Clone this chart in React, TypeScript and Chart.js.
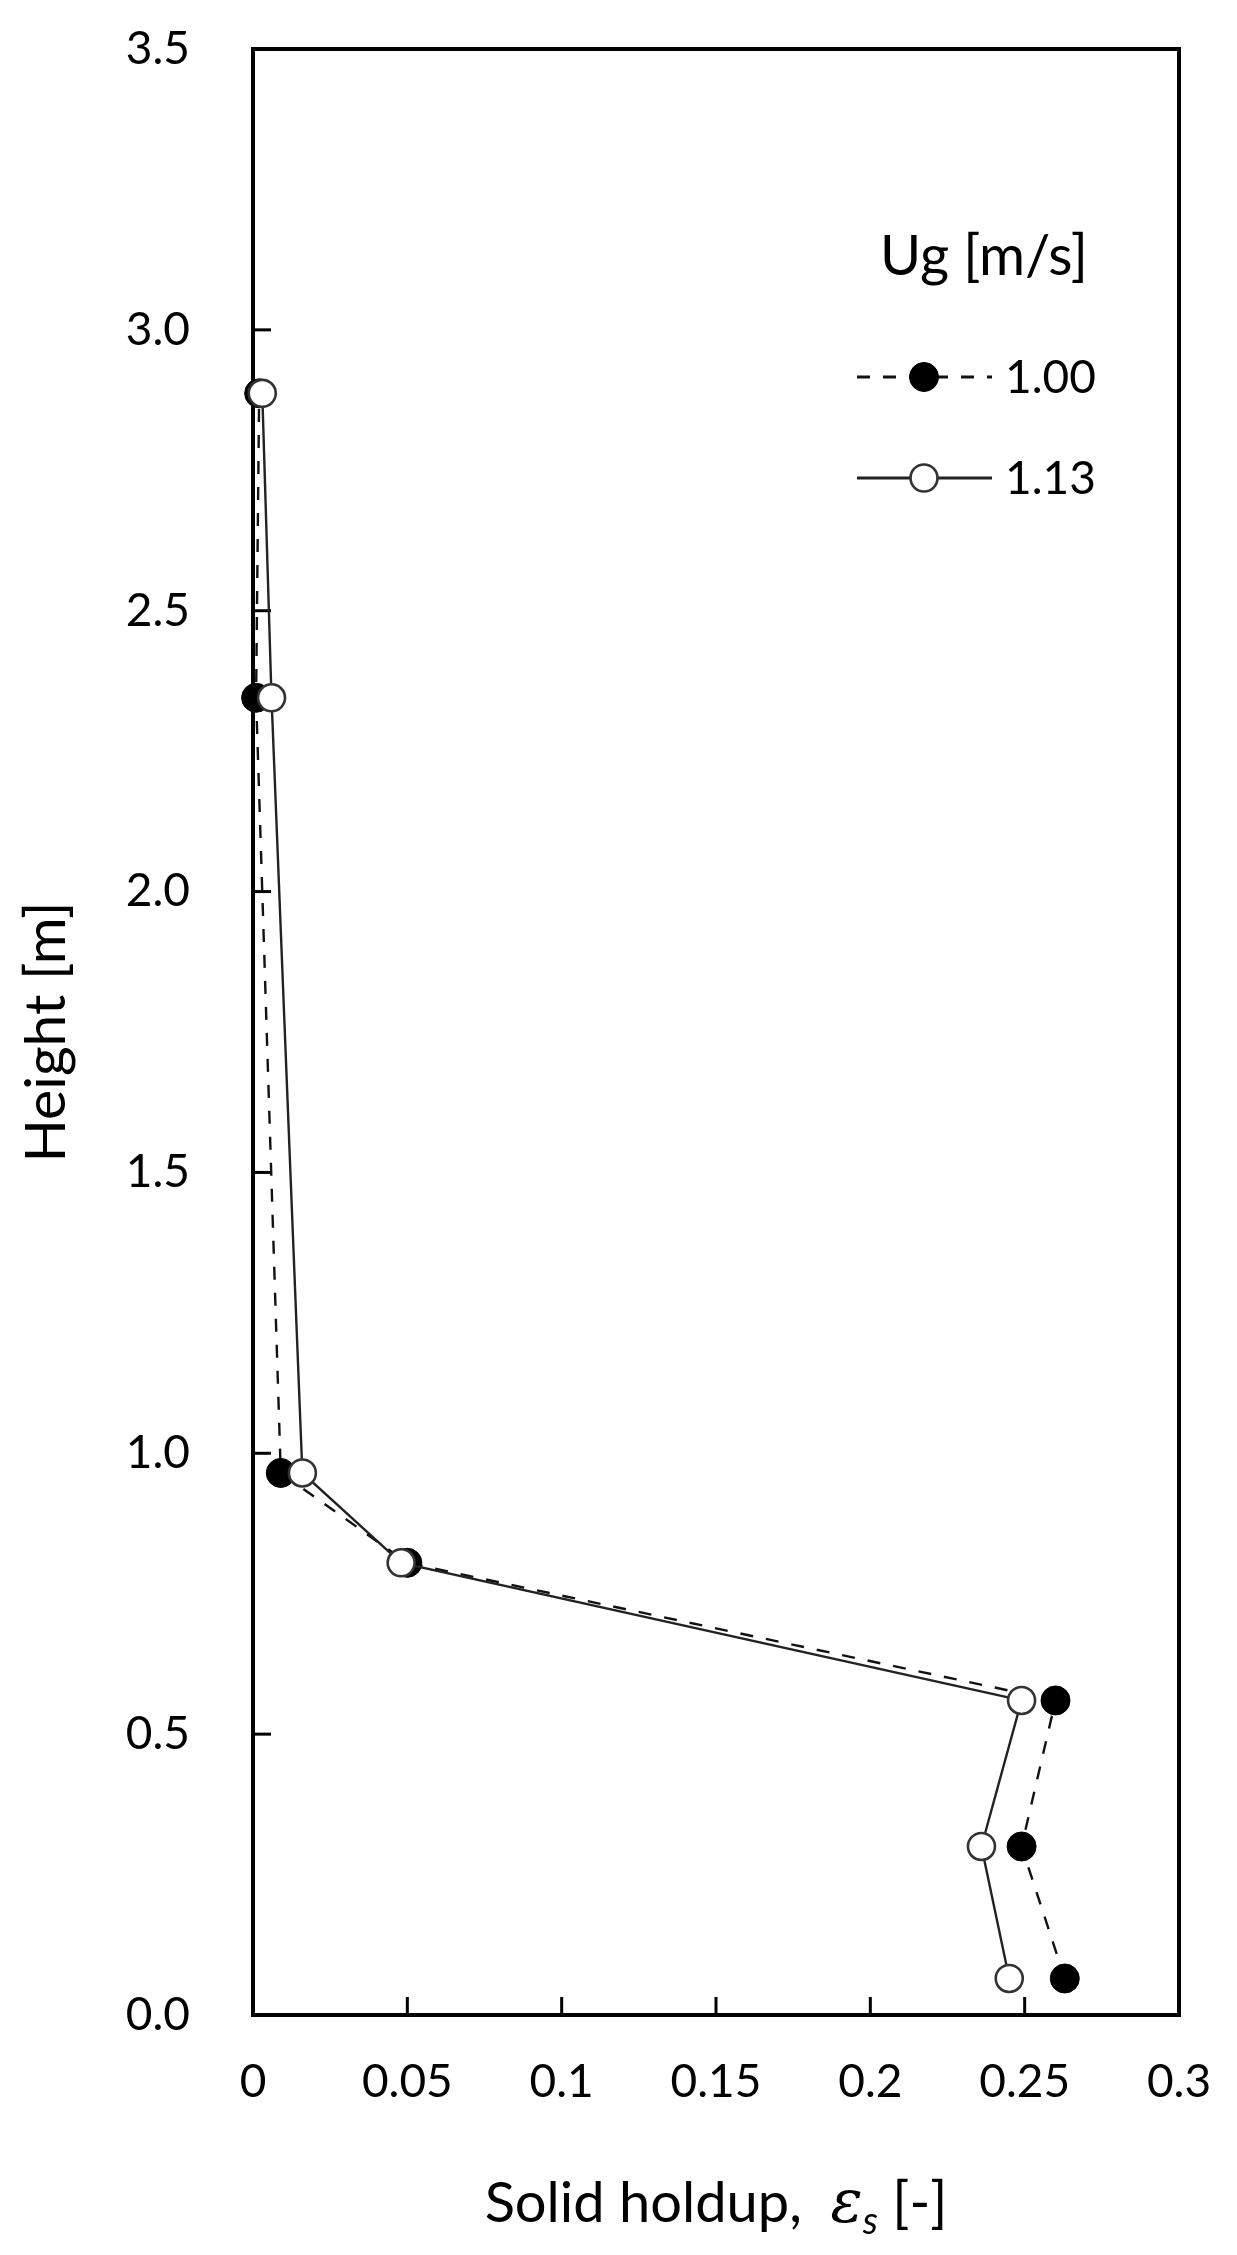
import React, { useEffect, useRef } from "react";
import { Chart, registerables } from "chart.js";

Chart.register(...registerables);

// ---- data ----
const heights = [0.065, 0.3, 0.56, 0.805, 0.965, 2.345, 2.887];
const holdupUg100 = [0.263, 0.249, 0.26, 0.05, 0.009, 0.001, 0.002];
const holdupUg113 = [0.245, 0.236, 0.249, 0.048, 0.016, 0.006, 0.003];
const seriesLabels = ["1.00", "1.13"];
const legendTitle = "Ug [m/s]";
const xTickValues = [0, 0.05, 0.1, 0.15, 0.2, 0.25, 0.3];
const yTickValues = [0, 0.5, 1, 1.5, 2, 2.5, 3, 3.5];
const yAxisTitle = "Height [m]";
const xTitleMain = "Solid holdup,  ";
const xTitleSymbol = "ε";
const xTitleSub = "s";
const xTitleUnit = " [-]";

const FONT = "Lato";

const framePlugin = {
  id: "frameTicks",
  beforeDatasetsDraw(chart: any) {
    const { ctx, chartArea: a, scales } = chart;
    ctx.save();
    ctx.strokeStyle = "#000";
    ctx.lineWidth = 3;
    ctx.setLineDash([]);
    scales.x.ticks.forEach((t: any) => {
      const px = scales.x.getPixelForValue(t.value);
      ctx.beginPath();
      ctx.moveTo(px, a.bottom);
      ctx.lineTo(px, a.bottom - 18);
      ctx.stroke();
    });
    scales.y.ticks.forEach((t: any) => {
      const py = scales.y.getPixelForValue(t.value);
      ctx.beginPath();
      ctx.moveTo(a.left, py);
      ctx.lineTo(a.left + 18, py);
      ctx.stroke();
    });
    ctx.lineWidth = 4;
    ctx.strokeRect(a.left, a.top, a.right - a.left, a.bottom - a.top);
    ctx.restore();
  },
};

const legendPlugin = {
  id: "ugLegend",
  afterDatasetsDraw(chart: any) {
    const { ctx, chartArea: a } = chart;
    const x0 = a.right - 322;
    const x1 = a.right - 187;
    const mx = a.right - 255;
    ctx.save();
    ctx.fillStyle = "#000";
    ctx.font = `56px ${FONT}`;
    ctx.textAlign = "center";
    ctx.textBaseline = "alphabetic";
    ctx.fillText(legendTitle, a.right - 195, a.top + 226);
    chart.data.datasets.forEach((ds: any, i: number) => {
      const y = a.top + 328 + i * 101;
      ctx.strokeStyle = ds.borderColor;
      ctx.lineWidth = 3;
      ctx.setLineDash(ds.borderDash || []);
      ctx.beginPath();
      ctx.moveTo(x0, y);
      ctx.lineTo(x1, y);
      ctx.stroke();
      ctx.setLineDash([]);
      ctx.beginPath();
      ctx.arc(mx, y, ds.pointRadius, 0, Math.PI * 2);
      ctx.fillStyle = ds.pointBackgroundColor;
      ctx.fill();
      ctx.lineWidth = ds.pointBorderWidth;
      ctx.strokeStyle = ds.pointBorderColor;
      ctx.stroke();
      ctx.fillStyle = "#000";
      ctx.font = `46px ${FONT}`;
      ctx.textAlign = "left";
      ctx.fillText(ds.label, a.right - 174, y + 16);
    });
    ctx.restore();
  },
};

const xTitlePlugin = {
  id: "xTitle",
  afterDraw(chart: any) {
    const { ctx, chartArea: a } = chart;
    const parts = [
      { t: xTitleMain, f: `56px ${FONT}`, dy: 0 },
      { t: xTitleSymbol, f: `italic 60px "DejaVu Serif"`, dy: 0 },
      { t: xTitleSub, f: `italic 38px ${FONT}`, dy: 12 },
      { t: xTitleUnit, f: `56px ${FONT}`, dy: 0 },
    ];
    ctx.save();
    ctx.fillStyle = "#000";
    ctx.textAlign = "left";
    ctx.textBaseline = "alphabetic";
    let total = 0;
    const widths = parts.map((p) => {
      ctx.font = p.f;
      const w = ctx.measureText(p.t).width;
      total += w;
      return w;
    });
    let x = (a.left + a.right) / 2 - total / 2;
    const baseY = a.bottom + 207;
    parts.forEach((p, i) => {
      ctx.font = p.f;
      ctx.fillText(p.t, x, baseY + p.dy);
      x += widths[i];
    });
    ctx.restore();
  },
};

function App() {
  const canvasRef = useRef<HTMLCanvasElement | null>(null);

  useEffect(() => {
    if (!canvasRef.current) return;
    const ds100 = heights.map((h, i) => ({ x: holdupUg100[i], y: h }));
    const ds113 = heights.map((h, i) => ({ x: holdupUg113[i], y: h }));
    const chart = new Chart(canvasRef.current, {
      type: "scatter",
      data: {
        datasets: [
          {
            label: seriesLabels[0],
            data: ds100,
            showLine: true,
            borderColor: "#111",
            borderWidth: 2.4,
            borderDash: [13, 13],
            pointRadius: 14.5,
            pointHoverRadius: 14.5,
            pointBackgroundColor: "#000",
            pointBorderColor: "#000",
            pointBorderWidth: 1,
            order: 1,
            clip: false,
          } as any,
          {
            label: seriesLabels[1],
            data: ds113,
            showLine: true,
            borderColor: "#222",
            borderWidth: 2.4,
            borderDash: [],
            pointRadius: 13.5,
            pointHoverRadius: 13.5,
            pointBackgroundColor: "#fff",
            pointBorderColor: "#333",
            pointBorderWidth: 2.6,
            order: 0,
            clip: false,
          } as any,
        ],
      },
      options: {
        animation: false,
        responsive: true,
        maintainAspectRatio: false,
        events: [],
        layout: { padding: { top: 49, right: 58, left: 0, bottom: 0 } },
        plugins: {
          legend: { display: false },
          tooltip: { enabled: false },
        },
        scales: {
          x: {
            type: "linear",
            min: 0,
            max: 0.3,
            afterBuildTicks: (s: any) => {
              s.ticks = xTickValues.map((v) => ({ value: v }));
            },
            afterFit: (s: any) => {
              s.height = 240;
              s.paddingLeft = 0;
              s.paddingRight = 0;
              s.paddingTop = 0;
              s.paddingBottom = 0;
            },
            grid: { display: false, drawTicks: false },
            border: { display: false },
            ticks: {
              padding: 40,
              color: "#000",
              font: { family: FONT, size: 46 },
              maxRotation: 0,
              autoSkip: false,
              callback: (v: any) => String(parseFloat(Number(v).toFixed(2))),
            },
            title: { display: false },
          },
          y: {
            type: "linear",
            min: 0,
            max: 3.5,
            afterBuildTicks: (s: any) => {
              s.ticks = yTickValues.map((v) => ({ value: v }));
            },
            afterFit: (s: any) => {
              s.width = 253;
              s.paddingLeft = 0;
              s.paddingRight = 0;
              s.paddingTop = 0;
              s.paddingBottom = 0;
            },
            grid: { display: false, drawTicks: false },
            border: { display: false },
            ticks: {
              padding: 63,
              color: "#000",
              font: { family: FONT, size: 46 },
              autoSkip: false,
              callback: (v: any) => Number(v).toFixed(1),
            },
            title: {
              display: true,
              text: yAxisTitle,
              color: "#000",
              font: { family: FONT, size: 57 },
              padding: { top: 12, bottom: 0 },
            },
          },
        },
      },
      plugins: [framePlugin, legendPlugin, xTitlePlugin],
    });
    return () => chart.destroy();
  }, []);

  return (
    <div style={{ position: "absolute", left: 0, top: 0, width: 1237, height: 2255, background: "#fff" }}>
      <canvas ref={canvasRef} />
    </div>
  );
}

export default App;
